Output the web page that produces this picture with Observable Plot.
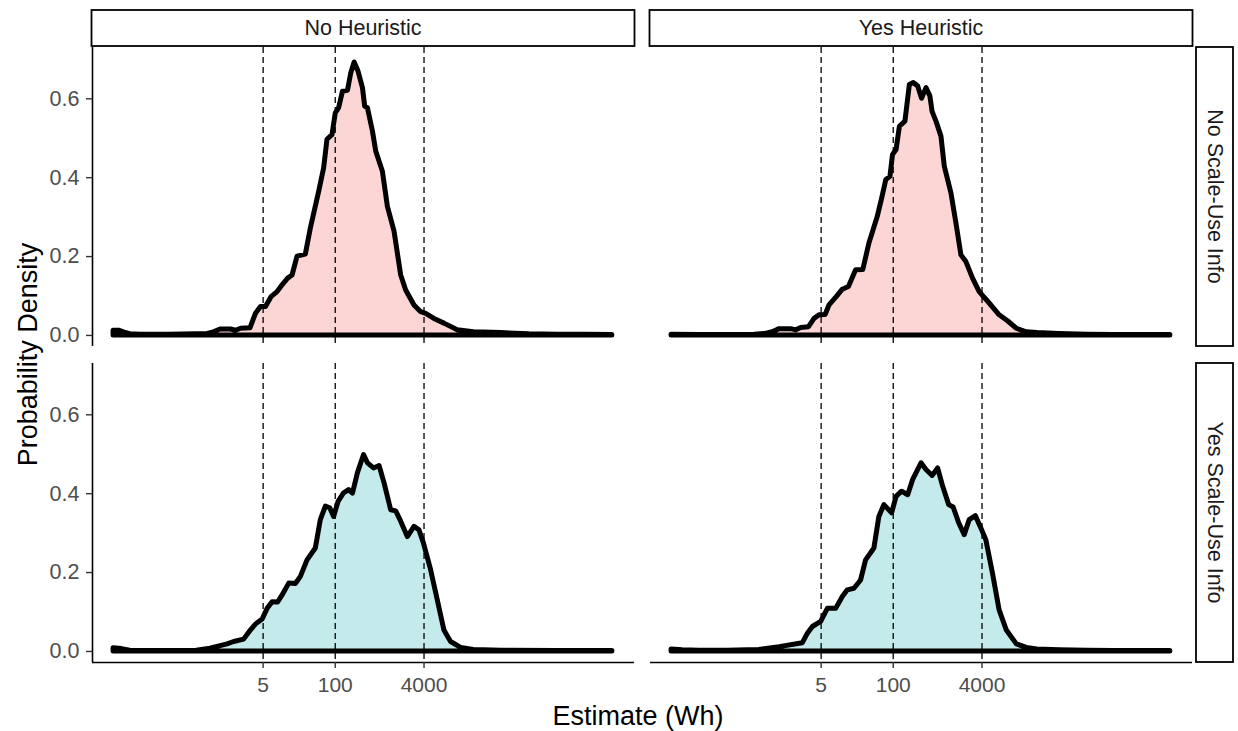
<!DOCTYPE html>
<html>
<head>
<meta charset="utf-8">
<script src="https://cdn.jsdelivr.net/npm/d3@7"></script>
<script src="https://cdn.jsdelivr.net/npm/@observablehq/plot@0.6"></script>
<style>
  body { margin: 0; background: #fff; }
  #chart { width: 1238px; height: 731px; }
</style>
</head>
<body>
<div id="chart"></div>
<script>
// ---- categories & ticks ----
const heuristics = ["No Heuristic", "Yes Heuristic"];
const scaleInfo = ["No Scale-Use Info", "Yes Scale-Use Info"];
const xTicks = [5, 100, 4000];
const xTickLabels = ["5", "100", "4000"];
const yTicks = [0, 0.2, 0.4, 0.6];
const refLines = [5, 100, 4000];
const xTitle = "Estimate (Wh)";
const yTitle = "Probability Density";

// ---- density curves: [log10(estimate), density] ----
const noHeurNoScale = [
  [-2.0,0.012],[-1.9,0.012],[-1.8,0.007],[-1.7,0.003],[-1.5,0.002],[-1.0,0.002],[-0.5,0.003],[-0.3,0.004],
  [-0.19,0.008],[-0.07,0.015],[0.12,0.015],[0.21,0.012],[0.30,0.017],[0.47,0.018],
  [0.57,0.055],[0.66,0.072],[0.75,0.072],[0.85,0.097],[0.96,0.11],[1.05,0.127],[1.15,0.144],[1.23,0.152],
  [1.32,0.20],[1.47,0.205],[1.56,0.271],[1.71,0.364],[1.80,0.424],[1.86,0.496],[1.95,0.508],[2.01,0.563],
  [2.07,0.576],[2.14,0.618],[2.23,0.62],[2.29,0.665],[2.35,0.692],[2.42,0.669],[2.50,0.627],[2.54,0.58],
  [2.59,0.576],[2.68,0.517],[2.74,0.466],[2.86,0.415],[2.95,0.326],[3.07,0.263],[3.19,0.152],[3.28,0.114],
  [3.43,0.076],[3.55,0.059],[3.64,0.055],[3.79,0.042],[3.97,0.030],[4.21,0.013],[4.5,0.008],[5.0,0.006],
  [5.5,0.003],[6.0,0.002],[6.5,0.002],[7.0,0.001]
];
const yesHeurNoScale = [
  [-2.0,0.002],[-1.5,0.001],[-1.0,0.001],[-0.5,0.002],[-0.3,0.004],[-0.175,0.008],[-0.05,0.016],[0.157,0.016],
  [0.25,0.013],[0.34,0.019],[0.48,0.021],[0.58,0.042],[0.67,0.051],[0.78,0.052],[0.85,0.076],[0.98,0.097],
  [1.09,0.116],[1.20,0.123],[1.33,0.165],[1.46,0.166],[1.57,0.233],[1.72,0.30],[1.80,0.347],[1.875,0.394],
  [1.95,0.402],[1.995,0.457],[2.06,0.47],[2.12,0.529],[2.22,0.542],[2.30,0.635],[2.37,0.64],[2.45,0.631],
  [2.52,0.60],[2.60,0.627],[2.67,0.606],[2.71,0.567],[2.78,0.542],[2.87,0.504],[2.93,0.428],[3.05,0.36],
  [3.14,0.284],[3.23,0.203],[3.32,0.186],[3.44,0.144],[3.56,0.11],[3.74,0.081],[3.92,0.051],[4.07,0.036],
  [4.23,0.017],[4.41,0.008],[4.6,0.006],[5.0,0.004],[5.5,0.002],[6.0,0.001],[7.0,0.001]
];
const noHeurYesScale = [
  [-2.0,0.008],[-1.85,0.006],[-1.7,0.002],[-1.0,0.001],[-0.5,0.002],[-0.25,0.007],[0.056,0.018],[0.175,0.024],
  [0.356,0.03],[0.477,0.053],[0.568,0.068],[0.69,0.081],[0.78,0.108],[0.87,0.125],[0.97,0.124],[1.05,0.142],
  [1.17,0.172],[1.29,0.171],[1.38,0.189],[1.50,0.231],[1.65,0.261],[1.74,0.333],[1.83,0.367],[1.91,0.363],
  [1.98,0.341],[2.06,0.379],[2.16,0.401],[2.25,0.409],[2.32,0.40],[2.41,0.452],[2.52,0.498],[2.59,0.477],
  [2.70,0.464],[2.80,0.47],[2.89,0.426],[3.01,0.358],[3.10,0.355],[3.19,0.329],[3.31,0.29],[3.43,0.316],
  [3.52,0.307],[3.60,0.274],[3.73,0.206],[3.85,0.13],[3.97,0.053],[4.09,0.024],[4.27,0.009],[4.5,0.004],
  [5.0,0.002],[6.0,0.001],[7.0,0.001]
];
const yesHeurYesScale = [
  [-2.0,0.005],[-1.8,0.003],[-1.5,0.002],[-1.0,0.002],[-0.42,0.004],[-0.05,0.011],[0.37,0.021],[0.46,0.045],
  [0.55,0.062],[0.70,0.075],[0.82,0.108],[0.97,0.108],[1.09,0.138],[1.18,0.155],[1.30,0.159],[1.42,0.18],
  [1.51,0.231],[1.66,0.261],[1.75,0.341],[1.84,0.371],[1.98,0.35],[2.06,0.392],[2.16,0.405],[2.27,0.396],
  [2.36,0.435],[2.51,0.477],[2.60,0.46],[2.71,0.445],[2.81,0.464],[2.90,0.418],[3.01,0.371],[3.09,0.365],
  [3.19,0.325],[3.29,0.295],[3.38,0.333],[3.49,0.343],[3.59,0.312],[3.68,0.282],[3.80,0.197],[3.92,0.104],
  [4.05,0.053],[4.23,0.018],[4.41,0.009],[4.6,0.005],[5.0,0.003],[5.5,0.002],[6.0,0.001],[7.0,0.001]
];

const panels = [
  [heuristics[0], scaleInfo[0], noHeurNoScale],
  [heuristics[1], scaleInfo[0], yesHeurNoScale],
  [heuristics[0], scaleInfo[1], noHeurYesScale],
  [heuristics[1], scaleInfo[1], yesHeurYesScale]
];
const rows = [];
for (const [h, s, arr] of panels) for (const [l, d] of arr) rows.push({h, s, x: Math.pow(10, l), d});

const xDomain = [Math.pow(10, -2.38), Math.pow(10, 7.40)];
const yDomain = [-0.028, 0.73];

const W = 1238, H = 731;
const mL = 92, mR = 46, mT = 47, mB = 69;
const FONT = "'Liberation Sans', Arial, Helvetica, sans-serif";

const yAxisLine = scaleInfo.map(s => ({x: xDomain[0], h: heuristics[0], s}));
const xAxisLine = heuristics.map(h => ({y: yDomain[0], h, s: scaleInfo[1]}));
const xTickRows = [];
for (const h of heuristics) xTicks.forEach((t, i) => xTickRows.push({x: t, label: xTickLabels[i], h, s: scaleInfo[1]}));

const plot = Plot.plot({
  width: W, height: H,
  marginLeft: mL, marginRight: mR, marginTop: mT, marginBottom: mB,
  style: {fontFamily: FONT, background: "white", overflow: "visible"},
  x: {type: "log", domain: xDomain, axis: null},
  y: {domain: yDomain},
  fx: {domain: heuristics, paddingInner: 0.0287, paddingOuter: 0, axis: null},
  fy: {domain: scaleInfo, paddingInner: 0.0538, paddingOuter: 0, axis: null},
  color: {domain: scaleInfo, range: ["#FCD6D4", "#C4EAEB"]},
  marks: [
    Plot.areaY(rows, {
      x: "x", y: "d", fx: "h", fy: "s", fill: "s",
      stroke: "black", strokeWidth: 5, strokeLinejoin: "round", strokeLinecap: "round"
    }),
    Plot.ruleX(refLines, {stroke: "black", strokeWidth: 1.3, strokeDasharray: "6,4"}),
    Plot.ruleX(yAxisLine, {x: "x", fx: "h", fy: "s", stroke: "black", strokeWidth: 1.6}),
    Plot.ruleY(xAxisLine, {y: "y", fx: "h", fy: "s", stroke: "black", strokeWidth: 1.6}),
    Plot.axisY({
      ticks: yTicks, tickFormat: d3.format(".1f"), facetAnchor: "left",
      tickSize: 6, tickPadding: 7, fontSize: 21.5, fill: "#4d4d4d", stroke: "#333", strokeWidth: 1.4, label: null
    }),
    // x tick marks and labels (bottom row only)
    Plot.ruleX(xTickRows, {
      x: "x", fx: "h", fy: "s", y1: yDomain[0], y2: yDomain[0], insetBottom: -6,
      stroke: "#333", strokeWidth: 1.4
    }),
    Plot.text(xTickRows, {
      x: "x", fx: "h", fy: "s", text: "label", frameAnchor: "bottom", lineAnchor: "top",
      dy: 15, fontSize: 21, fill: "#4d4d4d"
    })
  ]
});

document.getElementById("chart").appendChild(plot);

// ---- facet strips and axis titles ----
const svg = d3.select(plot);
const fxS = plot.scale("fx");
const fyS = plot.scale("fy");
function bandPos(sc, v, total0, total1) {
  if (sc && typeof sc.apply === "function") return sc.apply(v);
  const b = d3.scaleBand().domain(sc.domain).range(sc.range || [total0, total1])
    .paddingInner(sc.paddingInner ?? 0).paddingOuter(sc.paddingOuter ?? 0);
  return b(v);
}
const fxBW = fxS.bandwidth;
const fyBW = fyS.bandwidth;

const g = svg.append("g").attr("font-family", FONT);
for (const h of heuristics) {
  const x0 = bandPos(fxS, h, mL, W - mR);
  g.append("rect").attr("x", x0 - 0.5).attr("y", 10).attr("width", fxBW + 1).attr("height", 36)
    .attr("fill", "white").attr("stroke", "black").attr("stroke-width", 1.8);
  g.append("text").attr("x", x0 + fxBW / 2).attr("y", 28).attr("text-anchor", "middle")
    .attr("dominant-baseline", "central").attr("font-size", 21.5).attr("fill", "#1a1a1a").text(h);
}
for (const s of scaleInfo) {
  const y0 = bandPos(fyS, s, mT, H - mB);
  g.append("rect").attr("x", 1196).attr("y", y0).attr("width", 37).attr("height", fyBW)
    .attr("fill", "white").attr("stroke", "black").attr("stroke-width", 1.8);
  g.append("text").attr("transform", `translate(${1214.5},${y0 + fyBW / 2}) rotate(90)`)
    .attr("text-anchor", "middle").attr("dominant-baseline", "central")
    .attr("font-size", 21.5).attr("fill", "#1a1a1a").text(s);
}
g.append("text").attr("x", (mL + (W - mR)) / 2 - 4).attr("y", 716).attr("text-anchor", "middle")
  .attr("dominant-baseline", "central").attr("font-size", 27).attr("fill", "black").text(xTitle);
g.append("text").attr("transform", `translate(28,${(mT + (H - mB)) / 2}) rotate(-90)`)
  .attr("text-anchor", "middle").attr("dominant-baseline", "central")
  .attr("font-size", 27).attr("fill", "black").text(yTitle);
</script>
</body>
</html>
